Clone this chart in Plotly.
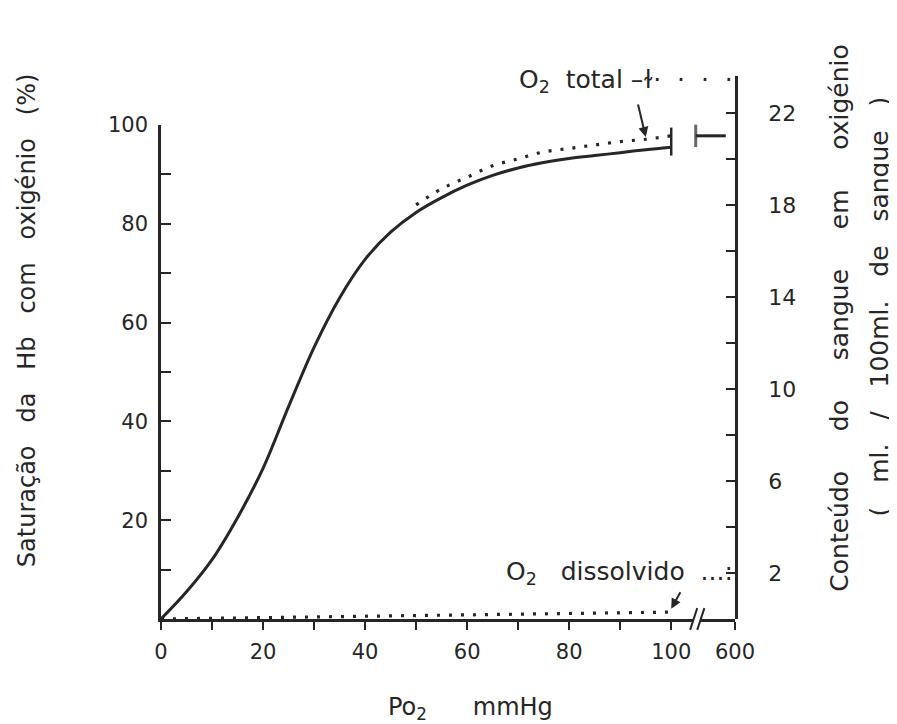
import plotly.graph_objects as go

# ---------------- data ----------------
po2 = [0, 5, 10, 15, 20, 25, 30, 35, 40, 45, 50, 55, 60, 65, 70, 75, 80, 85, 90, 95, 100]
saturation = [0, 5.5, 12, 20.5, 30.5, 43, 55, 65, 72.8, 78.3, 82.3, 85.3, 87.8, 89.8,
              91.3, 92.4, 93.2, 93.8, 94.4, 95.0, 95.5]

po2_total = [50, 55, 60, 65, 70, 75, 80, 85, 90, 95, 100]
o2_total = [18.0, 18.7, 19.2, 19.7, 20.0, 20.3, 20.45, 20.6, 20.75, 20.85, 21.0]

po2_dissolved = [0, 10, 20, 30, 40, 50, 60, 70, 80, 90, 100]
o2_dissolved = [0, 0.03, 0.06, 0.09, 0.12, 0.15, 0.18, 0.21, 0.24, 0.27, 0.30]

o2_total_600 = 21.0          # total O2 content at Po2 = 600 mmHg

x_tick_vals = [0, 20, 40, 60, 80, 100]
x_minor_vals = [0, 10, 20, 30, 40, 50, 60, 70, 80, 90, 100]
x_break_label = "600"
left_tick_labels = [20, 40, 60, 80, 100]
left_tick_vals = [10, 20, 30, 40, 50, 60, 70, 80, 90, 100]
right_tick_labels = [2, 6, 10, 14, 18, 22]
right_tick_vals = [2, 4, 6, 8, 10, 12, 14, 16, 18, 20, 22]

# ---------------- styling ----------------
INK = "#262626"
FONT = "DejaVu Sans"
X_END = 112.5      # axis position standing for 600 mmHg (after the break)
NB = "\u00a0"


def spaced(text, n=3):
    """Wide word spacing, as in the printed figure."""
    return (NB * n).join(text.split(" "))


fig = go.Figure()

fig.add_trace(go.Scatter(x=po2, y=saturation, mode="lines",
                         line=dict(color=INK, width=3, shape="spline", smoothing=1.0),
                         xaxis="x", yaxis="y", hoverinfo="skip"))
fig.add_trace(go.Scatter(x=po2_total, y=o2_total, mode="lines",
                         line=dict(color=INK, width=3.2, dash="3px,9px", shape="spline"),
                         xaxis="x", yaxis="y2", hoverinfo="skip"))
fig.add_trace(go.Scatter(x=po2_dissolved, y=o2_dissolved, mode="lines",
                         line=dict(color=INK, width=3.2, dash="3px,9px"),
                         xaxis="x", yaxis="y2", hoverinfo="skip"))
# end mark at 100 mmHg
fig.add_trace(go.Scatter(x=[po2_total[-1]], y=[o2_total[-1] - 0.25], mode="markers",
                         marker=dict(symbol="line-ns", size=20, line=dict(color=INK, width=2.5)),
                         xaxis="x", yaxis="y2", hoverinfo="skip"))
# value at 600 mmHg, drawn just left of the right axis
fig.add_trace(go.Scatter(x=[X_END - 7.7, X_END - 1.8], y=[o2_total_600, o2_total_600],
                         mode="lines+markers",
                         line=dict(color=INK, width=3),
                         marker=dict(symbol=["line-ns", "line-ns"], size=[16, 0],
                                     line=dict(color=INK, width=3)),
                         xaxis="x", yaxis="y2", hoverinfo="skip"))

tick_font = dict(family=FONT, size=21, color=INK)

fig.update_layout(
    width=897, height=724,
    margin=dict(l=153, r=170, t=68, b=113),
    paper_bgcolor="white", plot_bgcolor="rgba(0,0,0,0)",
    showlegend=False,
    font=dict(family=FONT, color=INK),
    xaxis=dict(domain=[0, 1], range=[0, X_END], anchor="y",
               showline=True, linecolor=INK, linewidth=2.5,
               ticks="outside", ticklen=8, tickwidth=2, tickcolor=INK,
               tickvals=x_minor_vals + [X_END],
               ticktext=[str(v) if v in x_tick_vals else "" for v in x_minor_vals] + [x_break_label],
               tickfont=tick_font, ticklabelstandoff=4,
               showgrid=False, zeroline=False, fixedrange=True),
    yaxis=dict(domain=[0, 0.9098], range=[0, 100], anchor="x",
               showline=True, linecolor=INK, linewidth=2.5,
               ticks="inside", ticklen=10, tickwidth=2, tickcolor=INK,
               tickvals=left_tick_vals,
               ticktext=[str(v) if v in left_tick_labels else "" for v in left_tick_vals],
               tickfont=tick_font, ticklabelstandoff=6,
               showgrid=False, zeroline=False),
    yaxis2=dict(domain=[0, 1], range=[0, 23.6], anchor="x", side="right",
                showline=True, linecolor=INK, linewidth=2.5,
                ticks="inside", ticklen=9, tickwidth=2, tickcolor=INK,
                tickvals=right_tick_vals,
                ticktext=[str(v) if v in right_tick_labels else "" for v in right_tick_vals],
                tickfont=dict(family=FONT, size=22, color=INK), ticklabelstandoff=26,
                showgrid=False, zeroline=False),
)

fig.add_annotation(text="O<sub>2</sub>" + NB * 2 + "total" + NB + "–ɫ·" + NB * 2 + "·" + NB * 2 + "·" + NB * 2 + "·",
                   xref="paper", yref="paper",
                   x=1.0, y=0.99, xanchor="right", yanchor="middle",
                   showarrow=False, font=dict(family=FONT, size=25, color=INK))
fig.add_annotation(text="", x=95, y=20.95, xref="x", yref="y2",
                   ax=-8, ay=-34, showarrow=True, arrowhead=2, arrowsize=1,
                   arrowwidth=2, arrowcolor=INK)
fig.add_annotation(text="O<sub>2</sub>" + NB * 3 + "dissolvido" + NB * 2 + "...:",
                   xref="paper", yref="paper",
                   x=1.0, y=0.085, xanchor="right", yanchor="middle",
                   showarrow=False, font=dict(family=FONT, size=25, color=INK))
fig.add_annotation(text="", x=100, y=0.45, xref="x", yref="y2",
                   ax=10, ay=-18, showarrow=True, arrowhead=2, arrowsize=1,
                   arrowwidth=2, arrowcolor=INK)

title_font = dict(family=FONT, size=24, color=INK)
fig.add_annotation(text=spaced("Saturação da Hb com oxigénio (%)", 3), textangle=-90,
                   xref="paper", yref="paper", x=-0.232, y=0.55,
                   xanchor="center", yanchor="middle", showarrow=False,
                   font=title_font)
fig.add_annotation(text=spaced("Conteúdo do sangue em oxigénio", 5), textangle=-90,
                   xref="paper", yref="paper", x=1.183, y=0.555,
                   xanchor="center", yanchor="middle", showarrow=False,
                   font=dict(family=FONT, size=25, color=INK))
fig.add_annotation(text=spaced("( ml. / 100ml. de sangue )", 3), textangle=-90,
                   xref="paper", yref="paper", x=1.252, y=0.575,
                   xanchor="center", yanchor="middle", showarrow=False,
                   font=dict(family=FONT, size=25, color=INK))
fig.add_annotation(text="Po<sub>2</sub>" + NB * 6 + "mmHg", xref="paper", yref="paper",
                   x=0.54, y=-0.165, xanchor="center", yanchor="middle",
                   showarrow=False, font=dict(family=FONT, size=24, color=INK))

# axis break marks
fig.add_shape(type="rect", xref="x", yref="paper", x0=104.4, x1=105.8, y0=-0.01, y1=0.01,
              line=dict(width=0), fillcolor="white")
for xb in (104.4, 105.8):
    fig.add_shape(type="line", xref="x", yref="paper", x0=xb - 0.7, x1=xb + 0.7,
                  y0=-0.02, y1=0.02, line=dict(color=INK, width=2))

fig.write_html("out.html")
